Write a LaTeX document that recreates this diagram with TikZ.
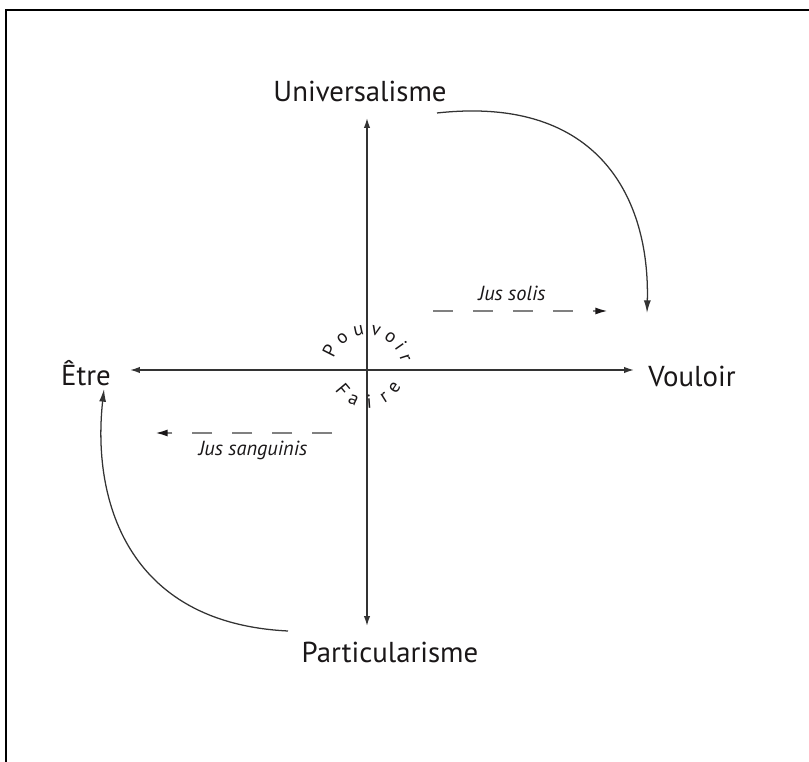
\documentclass[tikz,border=0pt]{standalone}
\usepackage{fontspec}
\setmainfont{PT Sans}
\usepackage{tikz}
\usetikzlibrary{arrows.meta,backgrounds}
\definecolor{ink}{HTML}{1A1718}
\definecolor{axisgray}{HTML}{333333}
\definecolor{dashgray}{HTML}{808080}

\begin{document}
\begin{tikzpicture}[x=0.025cm,y=0.025cm,
  pole/.style={text=ink,inner sep=0pt,font=\fontsize{20.5}{24}\selectfont},
  jus/.style={text=ink,inner sep=0pt,font=\fontsize{14.5}{17}\selectfont\itshape},
  lettre/.style={text=ink,inner sep=0pt,anchor=base,font=\fontsize{13.5}{15}\selectfont},
  axe/.style={draw=axisgray,line width=1pt,{Latex[length=7pt,width=4.5pt]}-{Latex[length=7pt,width=4.5pt]}},
  courbe/.style={draw=axisgray,line width=0.9pt,-{Latex[length=9pt,width=5pt]}},
  tiret/.style={draw=dashgray,line width=1.4pt,dash pattern=on 14.2pt off 14.2pt,-{Latex[length=9pt,width=5pt,color=ink]}}]
\useasboundingbox (0,0) rectangle (809,762);
\draw[line width=1.4pt] (6,0) -- (6,752) -- (809,752);

\coordinate (O) at (367,392);
\coordinate (haut) at (367,644);
\coordinate (bas) at (367,136);
\coordinate (gauche) at (130,392);
\coordinate (droite) at (634,392);

\node[pole] (univ) at (360,671) {Universalisme};
\node[pole] (partic) at (390,110) {Particularisme};
\node[pole] (etre) at (86,389) {Être};
\node[pole] (vouloir) at (692,386) {Vouloir};

\draw[axe] (haut) -- (bas);
\draw[axe] (gauche) -- (droite);

\coordinate (c1) at (437,649);
\coordinate (c2) at (647,449);
\coordinate (c3) at (288,131);
\coordinate (c4) at (104,373);
\draw[courbe] (c1) .. controls (600,667) and (650,562) .. (c2);
\draw[courbe] (c3) .. controls (125,139) and (92,265) .. (c4);

\coordinate (s1) at (433,451);
\coordinate (s2) at (608,451);
\coordinate (g1) at (332,329);
\coordinate (g2) at (155,329);
\draw[tiret] (s1) -- (s2);
\draw[tiret] (g1) -- (g2);
\node[jus] (solis) at (512,469) {Jus solis};
\node[jus] (sang) at (253,312) {Jus sanguinis};

\foreach \a/\l in {153/P,128/o,102/u,77/v,54/o,35/i,18/r}
  \node[lettre,rotate=\a-90] (pv\a) at ([shift={(\a:35)}]O) {\l};
\foreach \a/\l in {-140/F,-114/a,-86/i,-58/r,-33/e}
  \node[lettre,rotate=\a+90] (fa\a) at ([shift={(\a:38)}]O) {\l};
\end{tikzpicture}
\end{document}
